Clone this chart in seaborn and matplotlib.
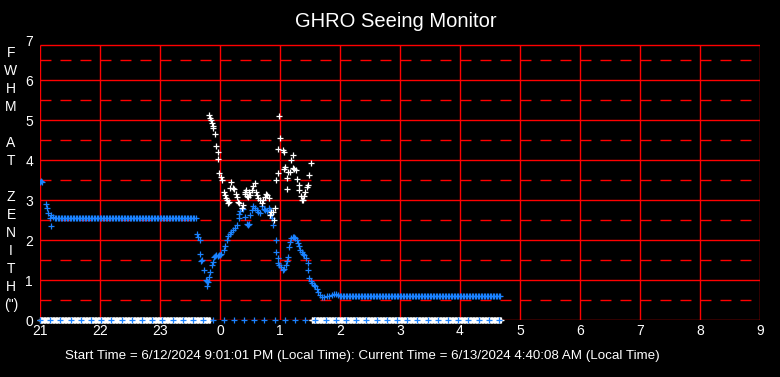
import numpy as np
import pandas as pd
import matplotlib
matplotlib.use("Agg")
import matplotlib.pyplot as plt
import seaborn as sns

# ---------------- data (hours; values >24 are after midnight) ----------------
hour_ticks = list(range(21, 34))
hour_labels = ["21", "22", "23", "0", "1", "2", "3", "4", "5", "6", "7", "8", "9"]
y_ticks = list(range(0, 8))

blue_t = [21.00, 21.02, 21.04, 21.10, 21.12, 21.14, 21.16, 21.18, 21.19, 21.22,
          23.61, 23.64, 23.66, 23.67, 23.69, 23.70, 23.73, 23.77, 23.78, 23.79,
          23.80, 23.82, 23.83, 23.86, 23.88, 23.90, 23.92, 23.94, 23.96, 23.98,
          24.00, 24.02, 24.06, 24.08, 24.11, 24.14, 24.17, 24.19, 24.22, 24.25,
          24.28, 24.31, 24.32, 24.34, 24.36, 24.38, 24.42, 24.45, 24.47, 24.48,
          24.50, 24.53, 24.55, 24.58, 24.61, 24.64, 24.66, 24.70, 24.73, 24.75,
          24.78, 24.81, 24.83, 24.85, 24.87, 24.89, 24.93, 24.94, 24.96, 24.97,
          24.99, 25.02, 25.05, 25.07, 25.10, 25.12, 25.14, 25.15, 25.17, 25.19,
          25.21, 25.23, 25.25, 25.28, 25.30, 25.32, 25.34, 25.36, 25.38, 25.40,
          25.43, 25.46, 25.47, 25.49, 25.51, 25.53, 25.56, 25.58, 25.61, 25.64,
          25.67, 25.70, 25.74, 25.78, 25.82, 25.86, 25.90, 25.94, 25.97, 26.00]
blue_v = [3.46, 3.47, 3.46, 2.91, 2.80, 2.67, 2.55, 2.36, 2.62, 2.58,
          2.16, 2.08, 2.00, 1.65, 1.48, 1.50, 1.25, 1.00, 0.97, 0.86,
          0.95, 1.08, 1.20, 1.37, 1.45, 1.58, 1.60, 1.62, 1.60, 1.62,
          1.62, 1.65, 1.75, 1.85, 2.00, 2.10, 2.16, 2.20, 2.24, 2.30,
          2.38, 2.55, 2.66, 2.72, 2.80, 2.78, 2.58, 2.40, 2.37, 2.40,
          2.62, 2.75, 2.84, 2.80, 2.75, 2.70, 2.68, 2.84, 2.78, 2.75,
          2.72, 2.80, 2.75, 2.66, 2.55, 2.38, 2.00, 1.70, 1.55, 1.42,
          1.38, 1.32, 1.25, 1.28, 1.38, 1.48, 1.58, 1.83, 1.95, 2.05,
          2.08, 2.08, 2.05, 2.00, 1.92, 1.84, 1.75, 1.70, 1.66, 1.62,
          1.55, 1.42, 1.25, 1.05, 0.98, 0.92, 0.88, 0.84, 0.78, 0.70,
          0.62, 0.58, 0.58, 0.59, 0.60, 0.63, 0.65, 0.64, 0.62, 0.60]

# steady readings (sampled continuously)
blue_flat1_t = np.arange(21.25, 23.62, 0.025)
blue_flat1_value = 2.54
blue_flat2_t = np.arange(26.02, 28.68, 0.025)
blue_flat2_value = 0.60

white_t = [23.82, 23.83, 23.85, 23.86, 23.88, 23.89, 23.92, 23.94, 23.96, 23.97,
           23.99, 24.01, 24.03, 24.06, 24.08, 24.10, 24.11, 24.14, 24.15, 24.17,
           24.19, 24.21, 24.23, 24.26, 24.28, 24.30, 24.32, 24.36, 24.39, 24.41,
           24.42, 24.44, 24.45, 24.47, 24.48, 24.50, 24.53, 24.55, 24.58, 24.60,
           24.61, 24.64, 24.67, 24.70, 24.72, 24.75, 24.77, 24.79, 24.81, 24.83,
           24.85, 24.88, 24.90, 24.92, 24.94, 24.96, 24.97, 24.99, 25.00, 25.05,
           25.06, 25.07, 25.09, 25.11, 25.12, 25.14, 25.16, 25.19, 25.21, 25.22,
           25.24, 25.27, 25.29, 25.31, 25.32, 25.35, 25.37, 25.38, 25.40, 25.42,
           25.45, 25.46, 25.49, 25.51]
white_v = [5.12, 5.05, 5.00, 4.92, 4.85, 4.79, 4.66, 4.34, 4.20, 4.02,
           3.67, 3.58, 3.50, 3.21, 3.12, 3.05, 3.00, 2.92, 2.95, 3.30,
           3.44, 3.30, 3.27, 3.15, 3.08, 2.95, 2.92, 2.80, 2.87, 3.15,
           3.21, 3.26, 3.10, 3.08, 3.20, 3.12, 3.25, 3.34, 3.42, 3.20,
           3.12, 3.05, 3.00, 2.92, 3.00, 3.08, 3.15, 3.12, 3.04, 2.62,
           2.70, 2.70, 2.50, 2.80, 3.51, 3.67, 4.27, 5.09, 4.55, 4.24,
           4.20, 3.77, 3.82, 3.55, 3.27, 3.70, 3.71, 4.00, 4.13, 3.80,
           3.78, 3.74, 3.52, 3.38, 3.26, 3.09, 3.00, 3.01, 3.09, 3.20,
           3.32, 3.38, 3.63, 3.92]

# zero readings (no measurement) plotted on the baseline
white_zero_t = np.concatenate([np.arange(21.00, 23.84, 0.01), np.arange(25.53, 28.69, 0.01)])
blue_zero_t = np.arange(21.00, 28.70, 0.17)

footer = "Start Time = 6/12/2024 9:01:01 PM (Local Time): Current Time = 6/13/2024 4:40:08 AM (Local Time)"
ylabel_letters = ["F", "W", "H", "M", "", "A", "T", "", "Z", "E", "N", "I", "T", "H", "(\")"]

# ---------------- styling ----------------
sns.set_theme(style="dark", rc={"axes.facecolor": "black", "figure.facecolor": "black"})
plt.rcParams["font.family"] = ["Liberation Sans", "DejaVu Sans"]

W, H = 780, 377
fig = plt.figure(figsize=(W / 100, H / 100), dpi=100)
fig.patch.set_facecolor("black")
ax = fig.add_axes([40 / W, 1 - 320 / H, 720 / W, 280 / H])
ax.set_facecolor("black")
ax.set_xlim(21, 33)
ax.set_ylim(0, 7)
for s in ax.spines.values():
    s.set_visible(False)
ax.grid(False)

red = "#ff0000"
top = 6.875
ax.vlines(hour_ticks, 0, top, color=red, lw=1.0, zorder=1)
ax.hlines(y_ticks[:-1], 21, 33, color=red, lw=1.0, zorder=1)
ax.hlines([top], 21, 33, color=red, lw=1.0, zorder=1)
for yv in np.array(y_ticks[:-1]) + 0.5:
    ax.plot([21, 33], [yv, yv], color=red, lw=1.0, dashes=(7.9, 6.5), zorder=1)

blue = "#1a82ff"
msz = 22
mlw = 0.9

df_blue = pd.DataFrame({"t": blue_t, "v": blue_v})
df_flat = pd.DataFrame({"t": np.concatenate([blue_flat1_t, blue_flat2_t]),
                        "v": np.concatenate([np.full(len(blue_flat1_t), blue_flat1_value),
                                             np.full(len(blue_flat2_t), blue_flat2_value)])})
df_white = pd.DataFrame({"t": white_t, "v": white_v})
df_wz = pd.DataFrame({"t": white_zero_t, "v": np.zeros(len(white_zero_t))})
df_bz = pd.DataFrame({"t": blue_zero_t, "v": np.zeros(len(blue_zero_t))})

kw = dict(marker="+", s=msz, linewidth=mlw, legend=False, ax=ax)
sns.scatterplot(data=df_flat, x="t", y="v", color=blue, zorder=3, **kw)
sns.scatterplot(data=df_blue, x="t", y="v", color=blue, zorder=3, **kw)
sns.scatterplot(data=df_white, x="t", y="v", color="white", zorder=4, **kw)
sns.scatterplot(data=df_wz, x="t", y="v", color="white", zorder=4, clip_on=False, **kw)
sns.scatterplot(data=df_bz, x="t", y="v", color=blue, zorder=5, clip_on=False, **kw)

ax.set_xlabel("")
ax.set_ylabel("")
ax.set_xticks(hour_ticks)
ax.set_xticklabels(hour_labels)
ax.set_yticks(y_ticks)
ax.set_yticklabels([str(v) for v in y_ticks])
ax.tick_params(axis="both", length=0, colors="white", labelsize=10)
ax.tick_params(axis="x", pad=3)
ax.tick_params(axis="y", pad=5)

fig.text(396 / W, 1 - 21.5 / H, "GHRO Seeing Monitor", color="white", fontsize=14.5,
         ha="center", va="center")
for i, ch in enumerate(ylabel_letters):
    fig.text(11 / W, 1 - (53 + 18 * i) / H, ch, color="white", fontsize=10,
             ha="center", va="center")
fig.text(362 / W, 1 - 356 / H, footer, color="white", fontsize=9.6,
         ha="center", va="center")

fig.savefig("out.png", dpi=100, facecolor="black")
